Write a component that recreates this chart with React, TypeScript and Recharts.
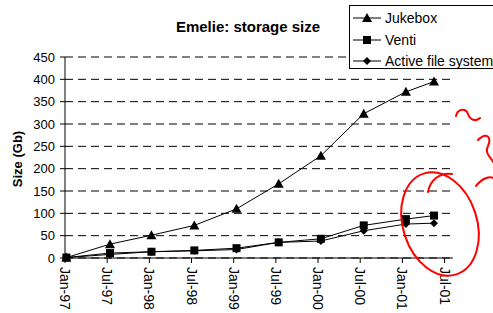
import React from "react";
import { LineChart, Line, XAxis, YAxis, CartesianGrid } from "recharts";

// months since Jan-97 at which each sample was taken
const sampleMonths = [0.2, 6.4, 12.3, 18.4, 24.4, 30.4, 36.4, 42.5, 48.5, 52.5];
const jukeboxGb = [1, 31, 51, 73, 110, 166, 229, 323, 372, 395];
const ventiGb = [1, 11, 14, 17, 22, 35, 43, 73, 87, 95];
const activeGb = [1, 8, 14, 16, 19, 35, 38, 61, 76, 78];

const xTickMonths = [0, 6, 12, 18, 24, 30, 36, 42, 48, 54];
const xTickLabels = [
  "Jan-97",
  "Jul-97",
  "Jan-98",
  "Jul-98",
  "Jan-99",
  "Jul-99",
  "Jan-00",
  "Jul-00",
  "Jan-01",
  "Jul-01",
];
const yTicks = [0, 50, 100, 150, 200, 250, 300, 350, 400, 450];

const FONT = "'Liberation Sans', Arial, sans-serif";

const rows = sampleMonths.map((m, i) => ({
  m,
  jukebox: jukeboxGb[i],
  venti: ventiGb[i],
  active: activeGb[i],
}));

const TriangleDot = (props: any) => {
  const { cx, cy } = props;
  if (cx == null || cy == null) return null;
  return <path d={`M${cx},${cy - 5}L${cx + 5},${cy + 4}L${cx - 5},${cy + 4}Z`} fill="#000" />;
};

const SquareDot = (props: any) => {
  const { cx, cy } = props;
  if (cx == null || cy == null) return null;
  return <rect x={cx - 4} y={cy - 4} width={8} height={8} fill="#000" />;
};

const DiamondDot = (props: any) => {
  const { cx, cy } = props;
  if (cx == null || cy == null) return null;
  return <path d={`M${cx},${cy - 4}L${cx + 4},${cy}L${cx},${cy + 4}L${cx - 4},${cy}Z`} fill="#000" />;
};

const DateTick = (props: any) => {
  const { x, y, payload } = props;
  const idx = xTickMonths.indexOf(payload.value);
  return (
    <g transform={`translate(${x},${y})`}>
      <text
        transform="rotate(90)"
        x={2}
        y={0}
        dy="0.35em"
        textAnchor="start"
        fontSize={14}
        fontFamily={FONT}
        fill="#000"
      >
        {idx >= 0 ? xTickLabels[idx] : ""}
      </text>
    </g>
  );
};

const legendItems = [
  { name: "Jukebox", Dot: TriangleDot },
  { name: "Venti", Dot: SquareDot },
  { name: "Active file system", Dot: DiamondDot },
];

const ChartLegend = () => (
  <div
    style={{
      position: "absolute",
      left: 349,
      top: 5,
      width: 160,
      height: 62,
      border: "1px solid #000",
      background: "#fff",
      fontFamily: FONT,
      fontSize: 14,
      color: "#000",
    }}
  >
    {legendItems.map((item, i) => (
      <div
        key={item.name}
        style={{ position: "absolute", left: 3, top: 2 + i * 21.5, height: 20, display: "flex", alignItems: "center" }}
      >
        <svg width={28} height={20} style={{ display: "block" }}>
          <line x1={0} y1={10} x2={28} y2={10} stroke="#000" strokeWidth={1} />
          <item.Dot cx={14} cy={10} />
        </svg>
        <span style={{ marginLeft: 4, whiteSpace: "nowrap" }}>{item.name}</span>
      </div>
    ))}
  </div>
);

export default function App() {
  return (
    <div
      style={{
        position: "absolute",
        left: 0,
        top: 0,
        width: 493,
        height: 313,
        overflow: "hidden",
        background: "#fff",
      }}
    >
      <LineChart width={493} height={313} data={rows} margin={{ top: 57, right: 40, bottom: 0, left: 0 }}>
        <CartesianGrid vertical={false} horizontal stroke="#000" strokeDasharray="8 5" />
        <XAxis
          dataKey="m"
          type="number"
          domain={[0, 55.2]}
          ticks={xTickMonths}
          interval={0}
          height={55}
          tick={<DateTick />}
          tickSize={5}
          axisLine={{ stroke: "#000" }}
          tickLine={{ stroke: "#000" }}
        />
        <YAxis
          type="number"
          domain={[0, 450]}
          ticks={yTicks}
          interval={0}
          width={65}
          tickSize={5}
          tickMargin={5}
          axisLine={{ stroke: "#000" }}
          tickLine={{ stroke: "#000" }}
          tick={{ fill: "#000", fontSize: 13, fontFamily: FONT }}
        />
        <Line
          dataKey="jukebox"
          stroke="#000"
          strokeWidth={1}
          dot={<TriangleDot />}
          activeDot={false}
          isAnimationActive={false}
        />
        <Line
          dataKey="venti"
          stroke="#000"
          strokeWidth={1}
          dot={<SquareDot />}
          activeDot={false}
          isAnimationActive={false}
        />
        <Line
          dataKey="active"
          stroke="#000"
          strokeWidth={1}
          dot={<DiamondDot />}
          activeDot={false}
          isAnimationActive={false}
        />
      </LineChart>

      <svg
        width={493}
        height={313}
        style={{ position: "absolute", left: 0, top: 0, pointerEvents: "none" }}
      >
        <text x={248} y={32} textAnchor="middle" fontSize={15} fontWeight="bold" fontFamily={FONT} fill="#000">
          Emelie: storage size
        </text>
        <text
          transform="translate(22,159) rotate(-90)"
          textAnchor="middle"
          fontSize={13}
          fontWeight="bold"
          fontFamily={FONT}
          fill="#000"
        >
          Size (Gb)
        </text>
        {/* hand-drawn red marks on the scan */}
        <g fill="none" stroke="#f00" strokeWidth={2} strokeLinecap="round">
          <ellipse cx={440} cy={224} rx={37} ry={53} transform="rotate(-18 440 224)" />
          <path d="M428,192 C430,180 440,172 452,174" />
          <path d="M456,116 C458,108 466,108 468,114 C470,120 476,122 480,118" />
          <path d="M478,140 C486,132 492,136 488,146 C484,154 492,158 493,162" />
          <path d="M476,186 C482,178 490,176 493,178" />
        </g>
      </svg>

      <ChartLegend />
    </div>
  );
}
